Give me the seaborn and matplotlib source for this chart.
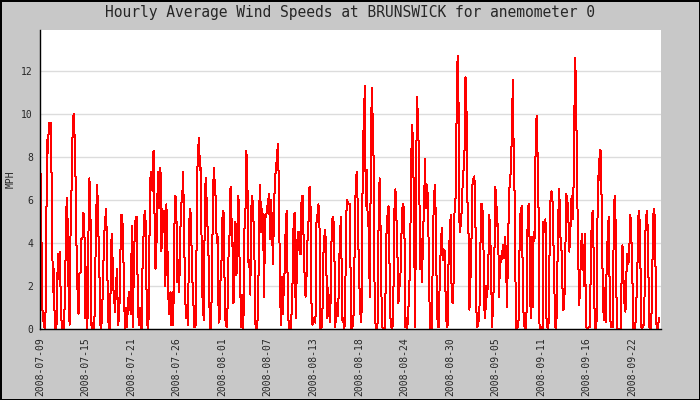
import numpy as np
import pandas as pd
import matplotlib
matplotlib.use("Agg")
import matplotlib.pyplot as plt
from matplotlib.ticker import MultipleLocator
import seaborn as sns

# 3-hourly readings (MPH), split into ~10 day chunks
jul09 = [7.5, 7.0, 1.3, 0.5, 0.2, 0.0, 1.3, 8.8, 8.2, 9.6, 9.2, 9.6, 6.0, 1.7, 2.8, 0.0, 0.0, 0.3, 3.5, 2.3,
         3.6, 1.5, 0.1, 0.0, 0.0, 1.1, 3.7, 6.1, 5.0, 1.5, 0.2, 4.8, 6.6, 9.1, 10.0, 9.0, 7.0, 3.8, 1.8, 0.7,
         2.6, 2.6, 4.2, 4.2, 5.4, 4.6, 0.5, 2.9, 0.0, 4.2, 7.0, 6.0, 0.2, 0.0, 0.3, 0.0, 2.9, 5.5, 6.7, 4.7,
         3.2, 0.2, 0.0, 0.8, 2.6, 4.4, 5.0, 5.6, 3.3, 0.5, 0.0, 0.0, 4.0, 4.4, 2.0, 1.5, 0.8]
jul19 = [2.0, 2.8, 0.2, 0.5, 1.8, 5.3, 5.3, 4.6, 2.0, 0.0, 1.0, 0.1, 1.0, 1.7, 1.2, 0.7, 4.8, 0.1, 2.7, 4.6,
         5.2, 5.2, 1.7, 0.2, 1.0, 0.1, 0.0, 3.4, 4.4, 5.5, 5.0, 1.4, 0.0, 0.5, 4.7, 7.2, 7.3, 6.4, 8.3, 5.3,
         2.8, 4.0, 6.3, 7.3, 5.6, 7.5, 3.6, 5.6, 4.5, 5.5, 2.0, 5.8, 4.0, 1.5, 0.7, 1.7, 0.2, 1.7, 0.2, 4.5,
         6.2, 6.0, 2.2, 3.2, 1.7, 4.3, 5.8, 6.0, 7.3, 4.5, 1.5, 0.5, 1.0, 0.2, 4.8, 5.6, 5.2, 2.3]
jul28 = [2.0, 0.1, 0.1, 0.2, 6.8, 8.2, 8.9, 7.4, 7.5, 2.2, 1.0, 0.4, 6.3, 7.0, 5.7, 4.4, 3.0, 0.1, 0.0, 1.7,
         5.4, 7.5, 6.8, 6.0, 4.0, 4.3, 0.3, 0.5, 2.6, 3.3, 5.5, 5.4, 2.0, 0.2, 0.1, 1.0, 3.5, 4.4, 6.6, 5.1,
         3.8, 1.2, 4.0, 5.0, 2.5, 4.0, 6.2, 3.5, 1.6, 0.1, 1.6, 0.0, 4.6, 5.1, 8.3, 7.2, 3.1, 3.2, 1.6, 5.6,
         6.2, 5.2, 4.3, 0.3, 0.0, 0.1, 1.0, 5.6, 6.7, 4.5, 5.6, 5.0, 1.5, 5.3, 5.2, 5.6, 5.9, 6.3, 4.2]
aug07 = [6.0, 4.8, 3.0, 5.5, 7.0, 7.4, 8.0, 8.6, 6.5, 2.3, 0.2, 2.4, 0.7, 2.0, 2.9, 5.1, 5.5, 1.4, 0.0, 0.0,
         0.0, 0.9, 2.5, 5.3, 5.4, 0.5, 2.4, 4.5, 4.5, 3.5, 3.5, 6.2, 6.2, 4.2, 2.5, 1.5, 2.5, 4.2, 5.0, 6.6,
         5.7, 1.2, 0.2, 0.5, 0.4, 0.3, 4.9, 5.3, 5.8, 5.3, 0.0, 0.0, 0.5, 3.4, 4.3, 4.6, 3.0, 0.5, 1.9, 0.7,
         0.3, 3.7, 5.1, 5.2, 4.5, 0.1, 0.8, 1.2, 0.6, 2.9, 4.6, 5.2, 0.4, 0.5, 0.0, 0.3, 5.1, 6.0, 5.8]
aug16 = [5.8, 5.8, 0.1, 0.0, 0.2, 1.0, 5.1, 7.0, 7.3, 5.3, 2.7, 1.4, 0.3, 1.0, 8.9, 9.4, 11.3, 5.7, 7.4, 4.8,
         5.0, 1.5, 7.1, 11.2, 9.7, 7.7, 1.0, 0.1, 0.0, 0.3, 5.2, 7.0, 4.6, 1.2, 0.0, 0.0, 0.0, 1.7, 4.5, 5.3,
         5.7, 3.0, 0.5, 0.1, 0.0, 1.7, 5.5, 6.5, 5.2, 3.6, 1.2, 1.9, 2.3, 4.2, 5.6, 5.8, 5.3, 0.1, 0.5, 0.0,
         0.8, 1.7, 3.7, 7.9, 9.5, 8.4, 4.4, 0.1, 7.6, 10.8, 9.4, 7.8, 2.8, 4.2, 2.2, 4.5, 5.6, 7.9, 5.6]
aug26 = [6.7, 6.0, 2.7, 0.0, 0.0, 0.0, 4.3, 6.0, 6.7, 5.0, 1.0, 0.1, 0.1, 2.6, 3.8, 4.7, 3.2, 3.7, 3.6, 1.1,
         0.1, 0.2, 3.8, 4.2, 5.3, 1.4, 1.2, 2.3, 5.9, 6.1, 10.0, 12.7, 10.3, 4.5, 4.8, 5.4, 6.6, 7.4, 8.3, 11.7,
         10.2, 5.9, 4.6, 0.9, 2.3, 4.0, 6.7, 7.0, 7.1, 5.3, 0.9, 0.1, 0.3, 0.5, 3.6, 5.8, 5.8, 4.5, 1.0, 0.5,
         2.0, 1.5, 2.7, 5.3, 4.6, 2.3, 0.1, 1.5, 2.1, 6.6, 6.3, 4.8, 4.9, 1.5, 3.4, 3.1, 3.4, 3.9, 3.3]
sep04 = [4.3, 3.5, 1.0, 3.6, 6.0, 7.0, 7.3, 9.3, 11.6, 7.2, 6.0, 0.1, 0.0, 0.1, 0.5, 5.0, 5.5, 5.7, 2.5, 0.2,
         0.1, 0.0, 1.0, 5.5, 5.8, 4.0, 0.5, 4.3, 1.0, 4.5, 4.2, 8.4, 9.9, 8.1, 5.5, 0.0, 0.1, 0.1, 0.0, 5.0,
         4.5, 5.1, 0.5, 0.1, 0.0, 3.2, 5.9, 6.4, 6.2, 4.2, 1.9, 0.1, 0.0, 2.7, 5.3, 6.5, 4.3, 4.1, 2.2, 0.9,
         1.0, 3.1, 6.3, 6.0, 5.6, 3.6, 4.1, 6.0, 6.2, 5.1, 9.0, 12.6, 11.2, 6.7, 4.2, 1.1, 1.8, 3.8, 4.4]
sep14 = [3.5, 2.0, 4.4, 0.2, 0.0, 0.0, 0.1, 0.1, 3.3, 5.3, 5.5, 2.9, 0.0, 0.0, 0.5, 7.1, 6.9, 8.3, 8.3, 5.6,
         2.0, 0.4, 1.9, 0.3, 3.0, 4.3, 5.2, 2.0, 0.1, 0.1, 0.1, 4.0, 6.2, 5.0, 1.3, 0.0, 0.0, 0.0, 0.0, 2.1,
         3.9, 2.3, 1.2, 0.8, 2.6, 3.5, 3.0, 3.8, 5.3, 4.3, 2.5, 0.0, 0.0, 0.1, 1.2, 2.5, 5.2, 5.5, 3.8, 0.1,
         0.0, 0.2, 0.2, 4.3, 5.2, 5.5, 3.7, 0.1, 0.0, 0.0, 1.8, 5.2, 5.6, 5.0, 0.4, 0.0, 0.1, 0.5]

tick_labels = ["2008-07-09", "2008-07-15", "2008-07-21", "2008-07-26", "2008-08-01",
               "2008-08-07", "2008-08-13", "2008-08-18", "2008-08-24", "2008-08-30",
               "2008-09-05", "2008-09-11", "2008-09-16", "2008-09-22"]

speeds = jul09 + jul19 + jul28 + aug07 + aug16 + aug26 + sep04 + sep14
df = pd.DataFrame({"sample": np.arange(len(speeds)), "mph": speeds})

bg = "#c8c8c8"
mono = ["DejaVu Sans Mono"]

sns.set_style("white")
plt.rcParams["font.family"] = mono

fig = plt.figure(figsize=(7, 4), dpi=100, facecolor=bg)
fig.patch.set_edgecolor("black")
fig.patch.set_linewidth(2)
ax = fig.add_axes([40 / 700, 1 - 329 / 400, 621 / 700, 299 / 400])
ax.set_facecolor("white")

sns.lineplot(data=df, x="sample", y="mph", ax=ax, color="red", lw=0.72,
             estimator=None, antialiased=False)

# data span 40..659 px; ticks every ~45.5 px
n = len(speeds)
per_px = (n - 1) / 619
ax.set_xlim(0, 621 * per_px)
ax.set_ylim(0, 13.9)
ax.set_xticks([k * 45.55 * per_px for k in range(len(tick_labels))])
ax.set_xticklabels(tick_labels, rotation=90, fontsize=7)
ax.yaxis.set_major_locator(MultipleLocator(2))
ax.yaxis.set_minor_locator(MultipleLocator(1))
ax.tick_params(axis="y", which="both", direction="in", length=5, width=1, labelsize=7, pad=5)
ax.tick_params(axis="x", direction="in", length=4, width=1, pad=6)
ax.grid(axis="y", color="#dcdcdc", lw=1)
ax.set_axisbelow(True)

for side in ["top", "right"]:
    ax.spines[side].set_visible(False)
for side in ["left", "bottom"]:
    ax.spines[side].set_color("black")
    ax.spines[side].set_linewidth(1)

ax.set_xlabel("")
ax.set_ylabel("MPH", fontsize=7, labelpad=4)
fig.text(350 / 700, 1 - 13 / 400, "Hourly Average Wind Speeds at BRUNSWICK for anemometer 0",
         ha="center", va="center", fontsize=10.5)

fig.savefig("out.png", dpi=100, facecolor=fig.get_facecolor(), edgecolor=fig.get_edgecolor())
